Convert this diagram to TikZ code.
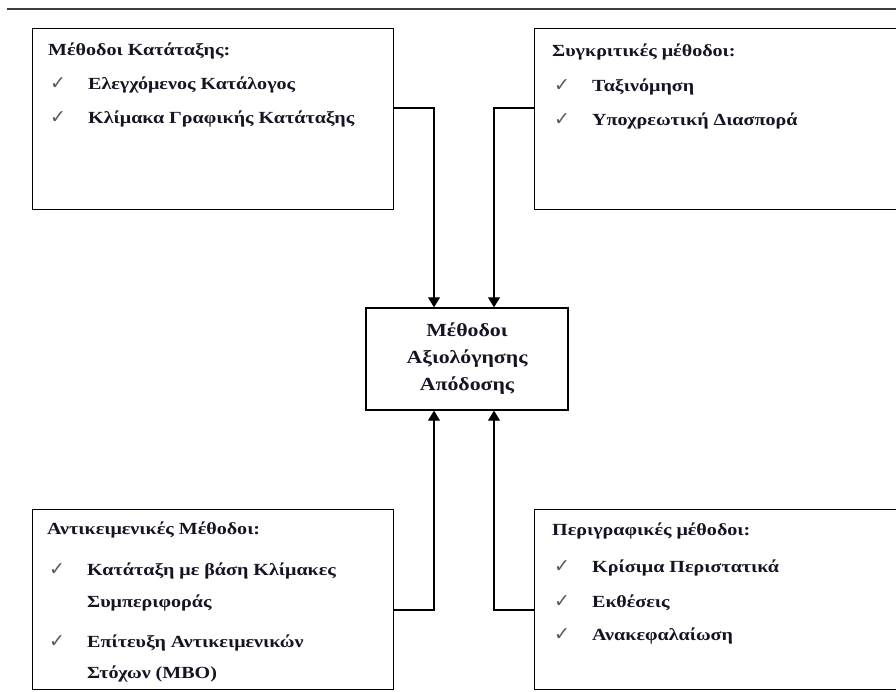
\documentclass[tikz,border=0pt]{standalone}
\usepackage{fontspec}
\setmainfont{Liberation Serif}
\newfontfamily\boxfont[FakeStretch=1.18]{Liberation Serif}
\newfontfamily\checkfont{DejaVu Sans}
\usetikzlibrary{arrows.meta, positioning}
\definecolor{rulegray}{RGB}{60, 60, 60}
\definecolor{checkgray}{RGB}{90, 90, 90}
\definecolor{textnavy}{RGB}{20, 20, 35}
\newcommand{\chk}{\makebox[40pt][l]{\hspace{2pt}\textcolor{checkgray}{\checkfont\mdseries\fontsize{19}{19}\selectfont ✓}}}
\newcommand{\cont}{\hspace*{40pt}}
\tikzset{
    x=1pt, y=-1pt,
    methodbox/.style={draw, line width=1.4pt, anchor=north west, inner sep=0pt},
    boxtext/.style={anchor=base west, align=left, inner sep=0pt, text=textnavy,
        font=\boxfont\bfseries\fontsize{17}{34}\selectfont},
    conn/.style={-{Triangle[length=10pt, width=12pt]}, line width=1.1pt},
}
\begin{document}
\begin{tikzpicture}
    \useasboundingbox (0,0) rectangle (896,691);
    \draw[rulegray, line width=2pt] (7,9) -- (896,9);
    % the four groups of methods
    \node[methodbox, minimum width=361pt, minimum height=181pt] (katataxi) at (32,28) {};
    \node[methodbox, minimum width=380pt, minimum height=181pt] (sygkritikes) at (534,28) {};
    \node[methodbox, minimum width=361pt, minimum height=180pt] (antikeimenikes) at (32,509) {};
    \node[methodbox, minimum width=380pt, minimum height=180pt] (perigrafikes) at (534,509) {};
    % centre
    \node[draw, line width=1.4pt, minimum width=202pt, minimum height=102pt, align=center,
        text=textnavy, font=\boxfont\bfseries\fontsize{18.5}{27}\selectfont] (axiologisi) at (467,359)
        {Μέθοδοι\\Αξιολόγησης\\Απόδοσης};
    % texts (base = last line)
    \node[boxtext] (katataxitext) at (48,123)
        {Μέθοδοι Κατάταξης:\\
         \chk Ελεγχόμενος Κατάλογος\\
         \chk Κλίμακα Γραφικής Κατάταξης};
    \node[boxtext] (sygkritikestext) at (552,125)
        {Συγκριτικές μέθοδοι:\\[1pt]
         \chk Ταξινόμηση\\
         \chk Υποχρεωτική Διασπορά};
    \node[boxtext] (antikeimenikestext) at (47,678)
        {Αντικειμενικές Μέθοδοι:\\[7pt]
         \chk Κατάταξη με βάση Κλίμακες\\[-2pt]
         \cont Συμπεριφοράς\\[6pt]
         \chk Επίτευξη Αντικειμενικών\\[-3pt]
         \cont Στόχων (MBO)};
    \node[boxtext] (perigrafikestext) at (552,640)
        {Περιγραφικές μέθοδοι:\\[3pt]
         \chk Κρίσιμα Περιστατικά\\[1pt]
         \chk Εκθέσεις\\[-1pt]
         \chk Ανακεφαλαίωση};
    % connectors
    \draw[conn] ([yshift=-80pt]katataxi.north east) -| ([xshift=-33pt]axiologisi.north);
    \draw[conn] ([yshift=-80pt]sygkritikes.north west) -| ([xshift=27pt]axiologisi.north);
    \draw[conn] ([yshift=-101pt]antikeimenikes.north east) -| ([xshift=-33pt]axiologisi.south);
    \draw[conn] ([yshift=-101pt]perigrafikes.north west) -| ([xshift=27pt]axiologisi.south);
\end{tikzpicture}
\end{document}
